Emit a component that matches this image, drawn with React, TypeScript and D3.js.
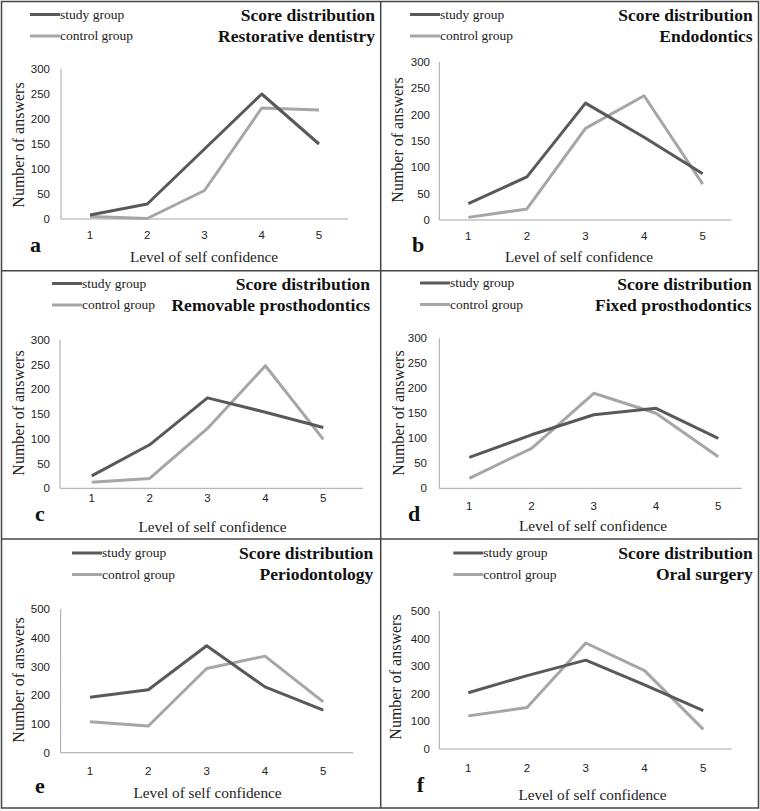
import React from 'react';
import * as d3 from 'd3';

// categories and values
const levels = ['1', '2', '3', '4', '5'];
const ticks300 = [0, 50, 100, 150, 200, 250, 300];
const ticks500 = [0, 100, 200, 300, 400, 500];

const panelTitles = [
  'Restorative dentistry',
  'Endodontics',
  'Removable prosthodontics',
  'Fixed prosthodontics',
  'Periodontology',
  'Oral surgery',
];
const panelLetters = ['a', 'b', 'c', 'd', 'e', 'f'];

const studyA = [8, 30, 140, 250, 150];
const controlA = [5, 1, 57, 222, 218];
const studyB = [31, 82, 222, 157, 88];
const controlB = [5, 21, 174, 236, 68];
const studyC = [25, 88, 183, 154, 123];
const controlC = [12, 20, 121, 248, 99];
const studyD = [62, 107, 147, 160, 100];
const controlD = [20, 80, 190, 150, 63];
const studyE = [193, 219, 372, 229, 148];
const controlE = [108, 93, 293, 336, 177];
const studyF = [204, 266, 322, 232, 139];
const controlF = [120, 150, 384, 284, 71];

const studySeries = [studyA, studyB, studyC, studyD, studyE, studyF];
const controlSeries = [controlA, controlB, controlC, controlD, controlE, controlF];
const panelTicks = [ticks300, ticks300, ticks300, ticks300, ticks500, ticks500];

const layouts = [
  { axisL: 61, x1: 90, x5: 319, axisR: 348, y0: 219, yTop: 69, legX: 30, legY: 14.5, titleR: 375, titleY: 21, tickY: 239, letterX: 30, letterY: 252, xTitleX: 204, xTitleY: 262, yTitleX: 18, yTitleY: 145, yLabR: 50 },
  { axisL: 439.3, x1: 468.3, x5: 702.7, axisR: 731.7, y0: 220, yTop: 62, legX: 410, legY: 14.5, titleR: 752.7, titleY: 21, tickY: 240, letterX: 412, letterY: 252, xTitleX: 579, xTitleY: 262, yTitleX: 397, yTitleY: 140, yLabR: 430 },
  { axisL: 60, x1: 91.7, x5: 323.3, axisR: 363, y0: 488.3, yTop: 340, legX: 52, legY: 283.5, titleR: 370, titleY: 290, tickY: 502, letterX: 35, letterY: 521, xTitleX: 212.5, xTitleY: 532, yTitleX: 18, yTitleY: 413, yLabR: 50 },
  { axisL: 439.3, x1: 469.3, x5: 718.3, axisR: 741.7, y0: 488.3, yTop: 338.3, legX: 420, legY: 283, titleR: 751.7, titleY: 290, tickY: 510, letterX: 408, letterY: 521, xTitleX: 593, xTitleY: 531, yTitleX: 398, yTitleY: 413, yLabR: 427 },
  { axisL: 60.7, x1: 90, x5: 323.3, axisR: 353, y0: 752.7, yTop: 609, legX: 72, legY: 553, titleR: 373.3, titleY: 559, tickY: 775, letterX: 35, letterY: 793, xTitleX: 207.5, xTitleY: 798, yTitleX: 18, yTitleY: 680, yLabR: 50 },
  { axisL: 439.3, x1: 468.3, x5: 703.3, axisR: 731.7, y0: 749, yTop: 611, legX: 453.3, legY: 553, titleR: 752.7, titleY: 559, tickY: 772, letterX: 416.7, letterY: 792, xTitleX: 592.5, xTitleY: 800, yTitleX: 395, yTitleY: 677, yLabR: 430 },
];

const STUDY = '#595959';
const CONTROL = '#a6a6a6';
const AXIS = '#a6a6a6';
const SERIF = "'Liberation Serif', 'Times New Roman', Times, 'DejaVu Serif', serif";
const SANS = "'Liberation Sans', Arial, sans-serif";

function Panel({ i }: { i: number }) {
  const L = layouts[i];
  const ticks = panelTicks[i];
  const xScale = d3.scalePoint<string>().domain(levels).range([L.x1, L.x5]);
  const yScale = d3.scaleLinear().domain([0, ticks[ticks.length - 1]]).range([L.y0, L.yTop]);
  const line = d3
    .line<number>()
    .x((_, k) => xScale(levels[k]) as number)
    .y(d => yScale(d));

  return (
    <g>
      {/* legend */}
      {[
        { name: 'study group', color: STUDY, dy: 0 },
        { name: 'control group', color: CONTROL, dy: 21.5 },
      ].map(item => (
        <g key={item.name}>
          <line x1={L.legX} x2={L.legX + 30} y1={L.legY + item.dy} y2={L.legY + item.dy} stroke={item.color} strokeWidth={3} />
          <text x={L.legX + 30} y={L.legY + item.dy} dy="0.32em" style={{ fontFamily: SERIF }} fontSize={13.5} fill="#222">
            {item.name}
          </text>
        </g>
      ))}

      {/* titles */}
      <text x={L.titleR} y={L.titleY} textAnchor="end" style={{ fontFamily: SERIF }} fontWeight="bold" fontSize={17.5} fill="#111">
        Score distribution
      </text>
      <text x={L.titleR} y={L.titleY + 21} textAnchor="end" style={{ fontFamily: SERIF }} fontWeight="bold" fontSize={17.5} fill="#111">
        {panelTitles[i]}
      </text>

      {/* axes */}
      <line x1={L.axisL} x2={L.axisL} y1={L.yTop} y2={L.y0} stroke={AXIS} strokeWidth={1} />
      <line x1={L.axisL} x2={L.axisR} y1={L.y0} y2={L.y0} stroke={AXIS} strokeWidth={1} />
      {ticks.map(t => (
        <text key={t} x={L.yLabR} y={yScale(t)} dy="0.35em" textAnchor="end" style={{ fontFamily: SANS }} fontSize={11.5} fill="#222">
          {t}
        </text>
      ))}
      {levels.map(c => (
        <text key={c} x={xScale(c)} y={L.tickY} textAnchor="middle" style={{ fontFamily: SANS }} fontSize={11.5} fill="#222">
          {c}
        </text>
      ))}
      <text
        transform={`translate(${L.yTitleX},${L.yTitleY}) rotate(-90)`}
        dy="0.35em"
        textAnchor="middle"
        style={{ fontFamily: SERIF }}
        fontSize={16}
        fill="#222"
      >
        Number of answers
      </text>
      <text x={L.xTitleX} y={L.xTitleY} textAnchor="middle" style={{ fontFamily: SERIF }} fontSize={15.3} fill="#222">
        Level of self confidence
      </text>
      <text x={L.letterX} y={L.letterY} style={{ fontFamily: SERIF }} fontWeight="bold" fontSize={22} fill="#111">
        {panelLetters[i]}
      </text>

      {/* series */}
      <path d={line(controlSeries[i]) ?? ''} fill="none" stroke={CONTROL} strokeWidth={3} strokeLinejoin="round" />
      <path d={line(studySeries[i]) ?? ''} fill="none" stroke={STUDY} strokeWidth={3} strokeLinejoin="round" />
    </g>
  );
}

export default function App() {
  const width = 760;
  const height = 811;
  return (
    <svg
      width={width}
      height={height}
      style={{ position: 'absolute', left: 0, top: 0, background: '#fff' }}
    >
      <rect x={0} y={0} width={width} height={height} fill="#fff" />
      {layouts.map((_, i) => (
        <Panel key={i} i={i} />
      ))}
      {/* frame and panel dividers */}
      <g stroke="#444" strokeWidth={1.5} fill="none">
        <rect x={1.5} y={1.5} width={757} height={806.5} />
        <line x1={380.7} x2={380.7} y1={1.5} y2={808} />
        <line x1={1.5} x2={758.5} y1={270.7} y2={270.7} />
        <line x1={1.5} x2={758.5} y1={539} y2={539} />
      </g>
    </svg>
  );
}
